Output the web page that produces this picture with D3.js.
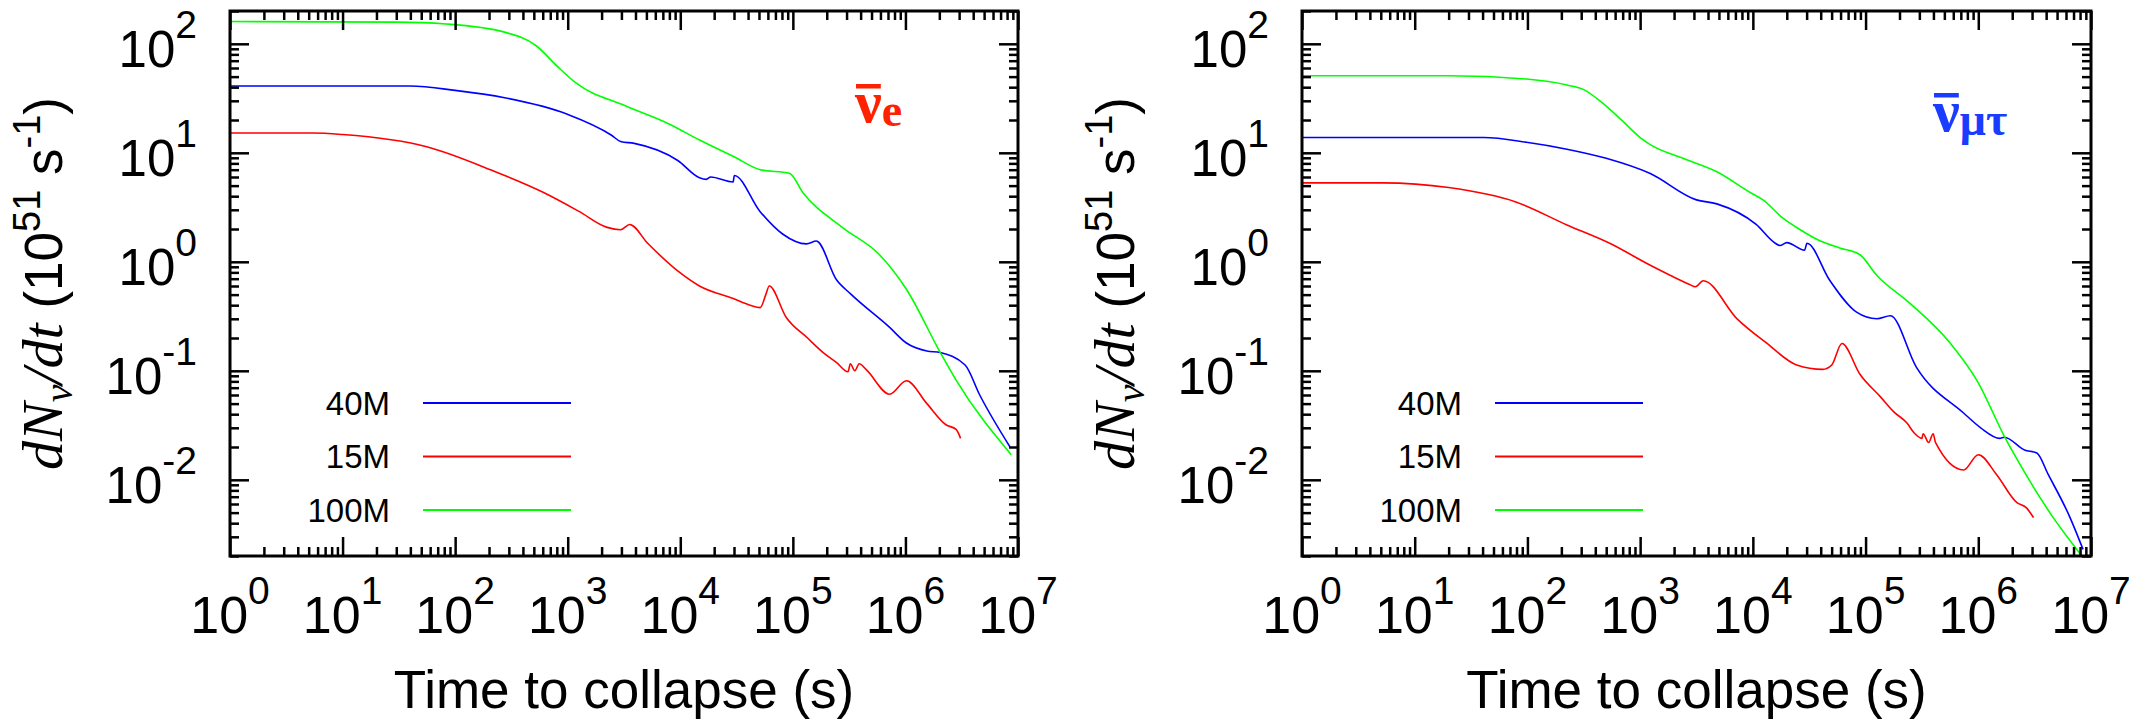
<!DOCTYPE html>
<html>
<head>
<meta charset="utf-8">
<script src="https://cdnjs.cloudflare.com/ajax/libs/d3/7.8.5/d3.min.js"></script>
<style>
  body { margin: 0; background: #fff; }
  svg { display: block; }
</style>
</head>
<body>
<svg id="chart" width="2129" height="720"></svg>
<script>
// anti-nu_e panel (time to collapse in s, rate in 1e51 /s)
const timeE40 = [1, 40, 100, 275, 980, 2450, 2950, 3900, 9500, 14800, 17000, 18600, 29500, 30200, 51000, 81000, 132000, 162000, 245000, 324000, 724000, 1020000, 1550000, 2040000, 3390000, 4570000, 8500000];
const rateE40 = [41, 41, 37.4, 32, 22.7, 14.5, 12.7, 12.2, 8.5, 5.9, 5.7, 6.0, 5.4, 6.2, 2.9, 1.8, 1.46, 1.55, 0.68, 0.51, 0.25, 0.18, 0.152, 0.147, 0.113, 0.06, 0.020];

const timeE15 = [1, 5.4, 10, 57, 209, 617, 1260, 2240, 2950, 3550, 5130, 9550, 14800, 29500, 41700, 51300, 57500, 61700, 87100, 135000, 186000, 245000, 309000, 324000, 355000, 389000, 447000, 724000, 1020000, 1550000, 2290000, 2820000, 3090000];
const rateE15 = [15.2, 15.2, 14.7, 11.3, 6.95, 4.3, 2.9, 2.07, 1.97, 2.2, 1.48, 0.82, 0.6, 0.46, 0.40, 0.38, 0.5, 0.6, 0.31, 0.20, 0.147, 0.119, 0.098, 0.116, 0.1, 0.116, 0.103, 0.061, 0.081, 0.050, 0.032, 0.029, 0.024];

const timeE100 = [1, 30, 83, 275, 525, 810, 1175, 3240, 7940, 14800, 29500, 51300, 93300, 123000, 275000, 589000, 1020000, 2040000, 2820000, 8700000];
const rateE100 = [160, 158, 152, 128, 96, 62, 44, 27, 18.4, 13.1, 9.3, 7.0, 6.5, 4.3, 2.07, 1.16, 0.56, 0.147, 0.082, 0.017];

// anti-nu_mu,tau panel
const timeM40 = [1, 41, 98, 224, 500, 1230, 3160, 4790, 10700, 15800, 17400, 20000, 28800, 30200, 47900, 83200, 126000, 166000, 282000, 741000, 1050000, 1550000, 1700000, 2570000, 3310000, 4170000, 6460000, 8500000];
const rateM40 = [13.8, 13.8, 12.5, 10.8, 8.9, 6.45, 3.7, 3.4, 2.2, 1.48, 1.41, 1.5, 1.28, 1.48, 0.68, 0.345, 0.30, 0.32, 0.108, 0.041, 0.030, 0.024, 0.0246, 0.0188, 0.0176, 0.0112, 0.0046, 0.0023];

const timeM15 = [1, 5.2, 20, 79, 224, 537, 1230, 1860, 2750, 3090, 3630, 7240, 13200, 24500, 41700, 50100, 61700, 89100, 135000, 178000, 234000, 269000, 316000, 324000, 363000, 398000, 417000, 741000, 1000000, 1450000, 2190000, 2690000, 3090000];
const rateM15 = [5.3, 5.3, 4.8, 3.54, 2.18, 1.48, 0.93, 0.75, 0.62, 0.59, 0.67, 0.30, 0.18, 0.113, 0.103, 0.113, 0.178, 0.093, 0.058, 0.042, 0.033, 0.027, 0.024, 0.0265, 0.022, 0.0265, 0.022, 0.0123, 0.017, 0.0112, 0.0062, 0.0055, 0.0045];

const timeM100 = [1, 20, 98, 224, 316, 468, 708, 1000, 1230, 2400, 4790, 9550, 12300, 18600, 26300, 39800, 58900, 89100, 126000, 245000, 562000, 977000, 1740000, 2140000, 4370000, 8300000];
const rateM100 = [51, 51, 47.5, 41.9, 38, 28.4, 19.3, 13.8, 11.9, 8.9, 6.7, 4.3, 3.7, 2.5, 1.97, 1.55, 1.34, 1.16, 0.75, 0.42, 0.18, 0.081, 0.024, 0.0163, 0.0049, 0.002];

const legendNames = ["40M", "15M", "100M"];
const seriesColors = ["#0000ff", "#ff0000", "#00ff00"];
const xExponents = [0, 1, 2, 3, 4, 5, 6, 7];
const yExponents = [-2, -1, 0, 1, 2];
const xDomain = [1, 1e7];
const yDomain = [0.002, 200];

const zip = (t, v) => t.map((d, i) => ({t: d, v: v[i]}));

const panels = [
  {
    x0: 230, x1: 1018,
    series: [zip(timeE40, rateE40), zip(timeE15, rateE15), zip(timeE100, rateE100)],
    tag: {sub: "e", color: "#ff2200", x: 855, y: 122}
  },
  {
    x0: 1302, x1: 2091,
    series: [zip(timeM40, rateM40), zip(timeM15, rateM15), zip(timeM100, rateM100)],
    tag: {sub: "μτ", color: "#1a3cff", x: 1933, y: 131}
  }
];

const plotTop = 11, plotBottom = 556;
const sans = "'Liberation Sans', Arial, Helvetica, sans-serif";
const serif = "'Liberation Serif', 'Times New Roman', serif";

const svg = d3.select("#chart");

panels.forEach((p, pi) => {
  const x = d3.scaleLog().domain(xDomain).range([p.x0, p.x1]);
  const y = d3.scaleLog().domain(yDomain).range([plotBottom, plotTop]);
  const g = svg.append("g");

  g.append("clipPath").attr("id", "clip" + pi)
    .append("rect")
    .attr("x", p.x0).attr("y", plotTop)
    .attr("width", p.x1 - p.x0).attr("height", plotBottom - plotTop);

  const line = d3.line()
    .x(d => x(d.t))
    .y(d => y(d.v))
    .curve(d3.curveMonotoneX);

  g.append("g").attr("clip-path", `url(#clip${pi})`)
    .selectAll("path")
    .data(p.series)
    .join("path")
    .attr("d", line)
    .attr("fill", "none")
    .attr("stroke", (d, i) => seriesColors[i])
    .attr("stroke-width", 1.6);

  // ticks on all four sides, pointing inwards
  const isMajor = v => Math.abs(Math.log10(v) - Math.round(Math.log10(v))) < 1e-6;
  const xMajor = x.ticks().filter(isMajor);
  const xMinor = x.ticks().filter(v => !isMajor(v));
  const yMajor = y.ticks().filter(isMajor);
  const yMinor = y.ticks().filter(v => !isMajor(v));

  const axisSets = [
    [d3.axisBottom(x), `translate(0,${plotBottom})`, xMajor, xMinor],
    [d3.axisTop(x), `translate(0,${plotTop})`, xMajor, xMinor],
    [d3.axisLeft(y), `translate(${p.x0},0)`, yMajor, yMinor],
    [d3.axisRight(y), `translate(${p.x1},0)`, yMajor, yMinor]
  ];
  axisSets.forEach(([axis, tr, major, minor]) => {
    [[major, 19], [minor, 9]].forEach(([vals, len]) => {
      g.append("g")
        .attr("transform", tr)
        .call(axis.tickValues(vals).tickSize(-len).tickFormat(""))
        .call(a => a.select(".domain").remove())
        .call(a => a.selectAll("line").attr("stroke", "#000").attr("stroke-width", 2.5));
    });
  });

  g.append("rect")
    .attr("x", p.x0).attr("y", plotTop)
    .attr("width", p.x1 - p.x0).attr("height", plotBottom - plotTop)
    .attr("fill", "none").attr("stroke", "#000").attr("stroke-width", 3);

  // tick labels
  const xl = g.append("g").selectAll("text")
    .data(xExponents)
    .join("text")
    .attr("x", e => x(Math.pow(10, e)))
    .attr("y", 633)
    .attr("text-anchor", "middle")
    .style("font-family", sans)
    .style("font-size", "52px");
  xl.append("tspan").text("10");
  xl.append("tspan").attr("dy", -29).style("font-size", "39px").text(e => e);

  const yl = g.append("g").selectAll("text")
    .data(yExponents)
    .join("text")
    .attr("x", p.x0 - 33)
    .attr("y", e => y(Math.pow(10, e)) + 23)
    .attr("text-anchor", "end")
    .style("font-family", sans)
    .style("font-size", "51px");
  yl.append("tspan").text("10");
  yl.append("tspan").attr("dy", -29).style("font-size", "39px").text(e => e);

  // axis titles
  g.append("text")
    .attr("x", (p.x0 + p.x1) / 2)
    .attr("y", 708)
    .attr("text-anchor", "middle")
    .style("font-family", sans)
    .style("font-size", "53px")
    .text("Time to collapse (s)");

  const yt = g.append("text")
    .attr("transform", `translate(${p.x0 - 168},${(plotTop + plotBottom) / 2}) rotate(-90)`)
    .attr("text-anchor", "middle")
    .style("font-size", "53px");
  yt.append("tspan").style("font-family", serif).style("font-style", "italic").style("font-size", "58px").text("dN");
  yt.append("tspan").style("font-family", serif).style("font-style", "italic").style("font-size", "40px").attr("dy", 10).text("ν");
  yt.append("tspan").style("font-family", serif).style("font-style", "italic").style("font-size", "58px").attr("dy", -10).text("/dt");
  yt.append("tspan").style("font-family", sans).text(" (10");
  yt.append("tspan").style("font-family", sans).style("font-size", "38px").attr("dy", -22).text("51");
  yt.append("tspan").style("font-family", sans).attr("dy", 22).text(" s");
  yt.append("tspan").style("font-family", sans).style("font-size", "38px").attr("dy", -22).text("-1");
  yt.append("tspan").style("font-family", sans).attr("dy", 22).text(")");

  // legend
  const leg = g.append("g").selectAll("g")
    .data(legendNames)
    .join("g")
    .attr("transform", (d, i) => `translate(${p.x0},${plotTop + 392 + i * 53.5})`);
  leg.append("text")
    .attr("x", 160)
    .attr("dy", "0.36em")
    .attr("text-anchor", "end")
    .style("font-family", sans)
    .style("font-size", "33px")
    .text(d => d);
  leg.append("line")
    .attr("x1", 193).attr("x2", 341)
    .attr("stroke", (d, i) => seriesColors[i])
    .attr("stroke-width", 1.8);

  // flavour tag: nu-bar with subscript
  const nu = g.append("text")
    .attr("x", p.tag.x).attr("y", p.tag.y)
    .style("font-family", serif)
    .style("font-weight", "bold")
    .style("font-size", "60px")
    .attr("fill", p.tag.color);
  nu.append("tspan").text("ν");
  nu.append("tspan").attr("dy", 4).style("font-size", "46px").text(p.tag.sub);
  const nuWidth = nu.node().getExtentOfChar(0);
  g.append("rect")
    .attr("x", nuWidth.x + 1)
    .attr("y", p.tag.y - 38)
    .attr("width", nuWidth.width - 2)
    .attr("height", 4.5)
    .attr("fill", p.tag.color);
});
</script>
</body>
</html>
